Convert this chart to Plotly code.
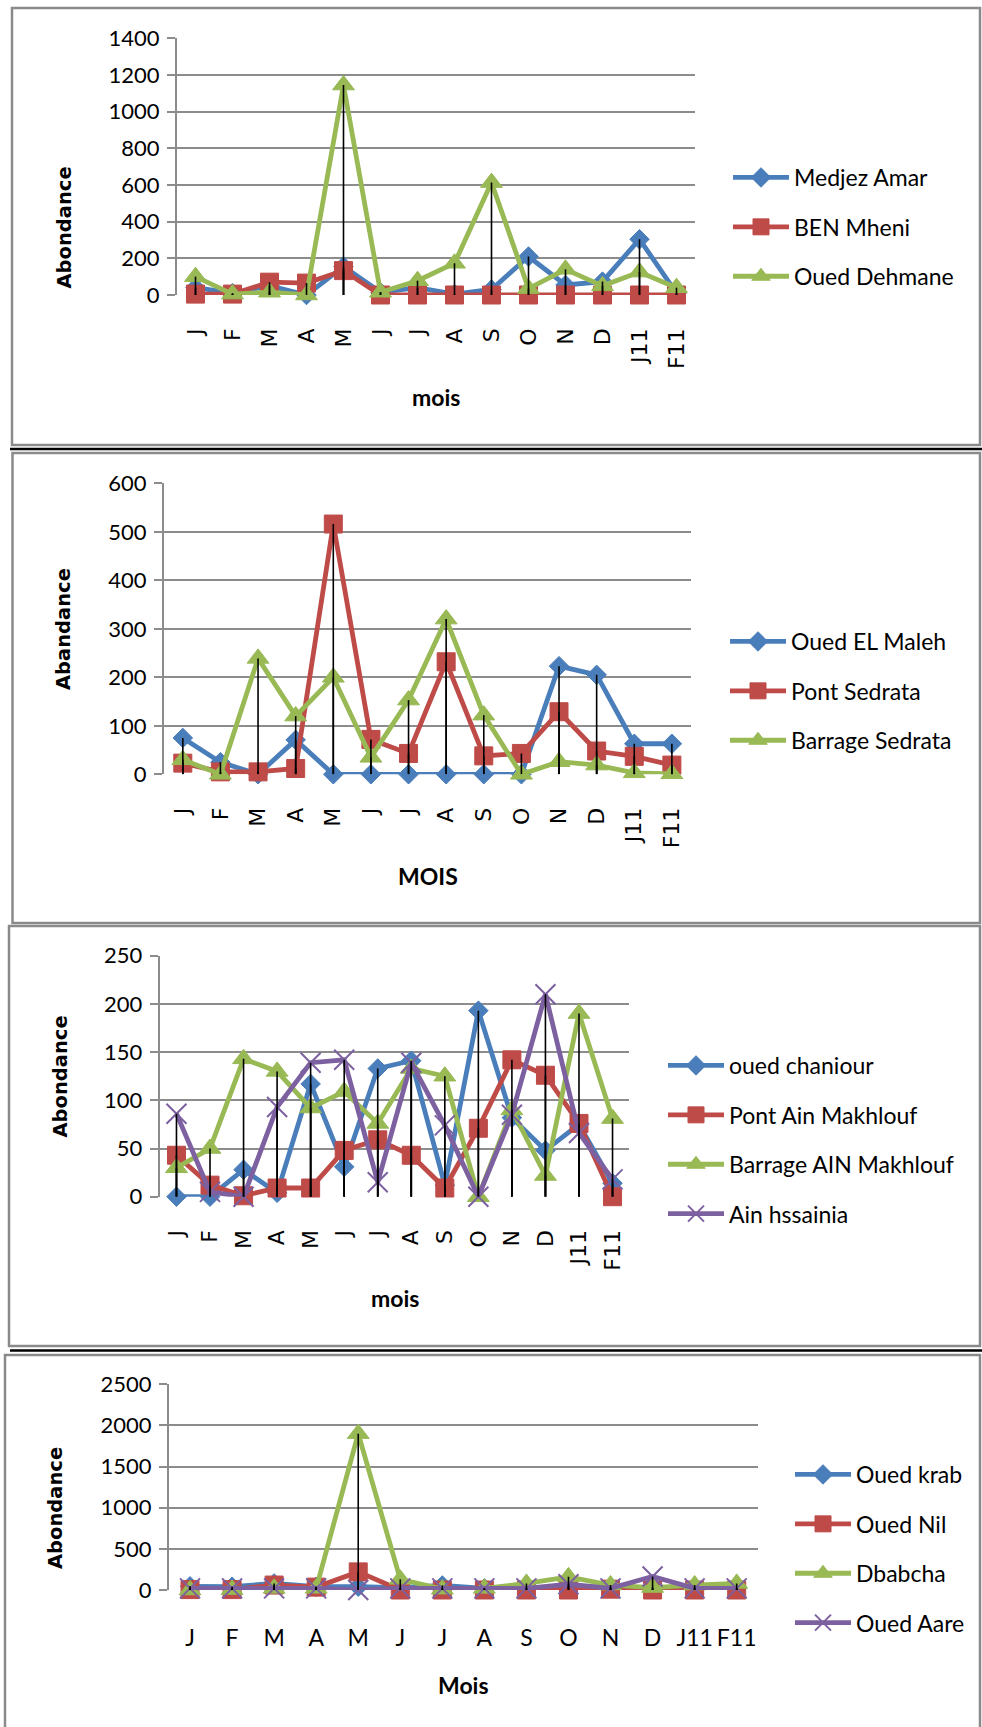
import plotly.graph_objects as go

W, H = 982, 1727

months = ["J", "F", "M", "A", "M", "J", "J", "A", "S", "O", "N", "D", "J11", "F11"]

# Panel 1 stations
medjez_amar = [40, 10, 50, 0, 155, 15, 40, 5, 30, 210, 55, 73, 304, 10]
ben_mheni = [5, 5, 70, 65, 133, 0, 0, 0, 0, 0, 0, 0, 0, 0]
oued_dehmane = [100, 5, 15, 0, 1145, 15, 78, 173, 613, 35, 140, 50, 125, 40]

# Panel 2 stations
oued_el_maleh = [75, 25, 0, 71, 0, 0, 0, 0, 0, 0, 223, 205, 63, 63]
pont_sedrata = [23, 5, 5, 12, 516, 72, 43, 232, 38, 43, 129, 48, 37, 19]
barrage_sedrata = [30, 0, 239, 120, 200, 35, 153, 320, 122, 0, 26, 19, 3, 1]

# Panel 3 stations
oued_chaniour = [0, 0, 28, 4, 117, 31, 133, 141, 12, 193, 82, 48, 75, 14]
pont_ain_makhlouf = [43, 12, 1, 9, 9, 48, 59, 43, 9, 71, 142, 126, 76, 0]
barrage_ain_makhlouf = [30, 50, 143, 130, 92, 109, 76, 133, 125, 0, 90, 22, 190, 81]
ain_hssainia = [86, 5, 0, 93, 139, 142, 15, 139, 74, 0, 85, 210, 66, 18]

# Panel 4 stations
oued_krab = [45, 40, 80, 40, 40, 30, 55, 20, 20, 50, 30, 20, 30, 20]
oued_nil = [5, 5, 60, 35, 220, 0, 0, 0, 0, 0, 10, 0, 0, 0]
dbabcha = [0, 5, 20, 20, 1900, 130, 10, 20, 80, 160, 60, 30, 60, 80]
oued_aare = [20, 20, 20, 20, 0, 20, 20, 20, 20, 70, 20, 165, 20, 20]

BLUE, RED, GREEN, PURPLE = "#4a7ebb", "#be4b48", "#98b954", "#7d60a0"
GRID = "#8c8c8c"
LABEL_FONT = "Lato, 'Open Sans', sans-serif"
WIDE_FONT = "'DejaVu Sans', Verdana, sans-serif"

STYLES = {
    BLUE: dict(symbol="diamond", size=15),
    RED: dict(symbol="square", size=18),
    GREEN: dict(symbol="triangle-up", size=19),
    PURPLE: dict(symbol="x-thin", size=20),
}


def fx(px):
    return px / W


def fy(py):
    return 1 - py / H


panels = [
    dict(series=[("Medjez Amar", medjez_amar, BLUE), ("BEN Mheni", ben_mheni, RED),
                 ("Oued Dehmane", oued_dehmane, GREEN)],
         box=(177, 695, 38.3, 295), ymax=1400, dtick=200,
         ytitle="Abondance", ytitle_xy=(63.5, 228), xtitle="mois", xtitle_xy=(436, 397),
         legend_xy=(728, 156), rotated=True),
    dict(series=[("Oued EL Maleh", oued_el_maleh, BLUE), ("Pont Sedrata", pont_sedrata, RED),
                 ("Barrage Sedrata", barrage_sedrata, GREEN)],
         box=(164, 690.7, 483.3, 774.3), ymax=600, dtick=100,
         ytitle="Abandance", ytitle_xy=(63, 629), xtitle="MOIS", xtitle_xy=(428, 876),
         legend_xy=(725, 620), rotated=True),
    dict(series=[("oued chaniour", oued_chaniour, BLUE), ("Pont Ain Makhlouf", pont_ain_makhlouf, RED),
                 ("Barrage AIN Makhlouf", barrage_ain_makhlouf, GREEN),
                 ("Ain hssainia", ain_hssainia, PURPLE)],
         box=(159.7, 629.3, 955.7, 1196.7), ymax=250, dtick=50,
         ytitle="Abondance", ytitle_xy=(59.5, 1077), xtitle="mois", xtitle_xy=(394.5, 1298),
         legend_xy=(663, 1044), rotated=True),
    dict(series=[("Oued krab", oued_krab, BLUE), ("Oued Nil", oued_nil, RED),
                 ("Dbabcha", dbabcha, GREEN), ("Oued Aare", oued_aare, PURPLE)],
         box=(169, 757.7, 1384.3, 1590), ymax=2500, dtick=500,
         ytitle="Abondance", ytitle_xy=(55, 1508), xtitle="Mois", xtitle_xy=(463, 1685),
         legend_xy=(790, 1453), rotated=False),
]

fig = go.Figure()
layout = dict(width=W, height=H, margin=dict(l=0, r=0, t=0, b=0, autoexpand=False),
              paper_bgcolor="white", plot_bgcolor="white", showlegend=True)
annotations = []
xs_idx = list(range(len(months)))

for k, p in enumerate(panels):
    n = "" if k == 0 else str(k + 1)
    xa, ya = "x" + n, "y" + n
    leg = "legend" + n
    for name, vals, color in p["series"]:
        st = STYLES[color]
        if st["symbol"] == "x-thin":
            marker = dict(symbol="x-thin", size=st["size"], color=color,
                          line=dict(color=color, width=2))
        else:
            marker = dict(symbol=st["symbol"], size=st["size"], color=color,
                          line=dict(color=color, width=1))
        fig.add_trace(go.Scatter(
            x=xs_idx, y=vals, name=name, mode="lines+markers",
            line=dict(color=color, width=4.8), marker=marker,
            xaxis=xa, yaxis=ya, legend=leg, legendgroup=f"{k}-{name}",
            cliponaxis=False))
    # drop lines from every point down to the category axis
    dx, dy = [], []
    for _, vals, _ in p["series"]:
        for i, v in enumerate(vals):
            dx += [i, i, None]
            dy += [0, v, None]
    fig.add_trace(go.Scatter(x=dx, y=dy, mode="lines", line=dict(color="black", width=1.6),
                             xaxis=xa, yaxis=ya, showlegend=False, hoverinfo="skip",
                             cliponaxis=False))

    x0, x1, y0, y1 = p["box"]
    layout["xaxis" + n] = dict(
        domain=[fx(x0), fx(x1)], anchor=ya, range=[-0.5, len(months) - 0.5],
        tickmode="array", tickvals=xs_idx, ticktext=months,
        tickangle=-90 if p["rotated"] else 0,
        tickfont=dict(family=WIDE_FONT if p["rotated"] else LABEL_FONT,
                      size=22 if p["rotated"] else 23, color="black"),
        showgrid=False, zeroline=False, showline=False, ticks="",
        ticklabelstandoff=28 if p["rotated"] else 32, automargin=False)
    layout["yaxis" + n] = dict(
        domain=[fy(y1), fy(y0)], anchor=xa, range=[0, p["ymax"]], dtick=p["dtick"],
        showgrid=True, gridcolor=GRID, gridwidth=2, zeroline=False,
        showline=True, linecolor=GRID, linewidth=2,
        ticks="outside", ticklen=8, tickcolor=GRID, tickwidth=2,
        tickfont=dict(family=LABEL_FONT, size=22, color="black"),
        ticklabelstandoff=3, automargin=False)
    lx, ly = p["legend_xy"]
    layout[leg] = dict(x=fx(lx), y=fy(ly), xanchor="left", yanchor="top",
                       font=dict(family=LABEL_FONT, size=23, color="black"),
                       bgcolor="rgba(0,0,0,0)", itemwidth=56, tracegroupgap=16.5,
                       traceorder="grouped")
    tx, ty = p["ytitle_xy"]
    annotations.append(dict(x=fx(tx), y=fy(ty), xref="paper", yref="paper",
                            text="<b>" + p["ytitle"] + "</b>", textangle=-90, showarrow=False,
                            font=dict(family=WIDE_FONT, size=19.5, color="black"),
                            xanchor="center", yanchor="middle"))
    tx, ty = p["xtitle_xy"]
    annotations.append(dict(x=fx(tx), y=fy(ty), xref="paper", yref="paper",
                            text="<b>" + p["xtitle"] + "</b>", showarrow=False,
                            font=dict(family=LABEL_FONT, size=23, color="black"),
                            xanchor="center", yanchor="middle"))

# panel frames and separators
BORDER = "#8a8a8a"
shapes = []
frames = [(12, 8, 980, 445), (12.5, 453, 980, 923), (9, 926, 980, 1346), (5, 1355, 980, 1740)]
for (l, t, r, b) in frames:
    shapes.append(dict(type="rect", xref="paper", yref="paper", x0=fx(l), x1=fx(r),
                       y0=fy(b), y1=fy(t), line=dict(color=BORDER, width=2.5),
                       fillcolor="rgba(0,0,0,0)", layer="below"))
for yy in (449, 1350.5):
    shapes.append(dict(type="line", xref="paper", yref="paper", x0=fx(10), x1=1,
                       y0=fy(yy), y1=fy(yy), line=dict(color="black", width=2.5)))

layout["annotations"] = annotations
layout["shapes"] = shapes
fig.update_layout(**layout)
fig.write_html("out.html")
